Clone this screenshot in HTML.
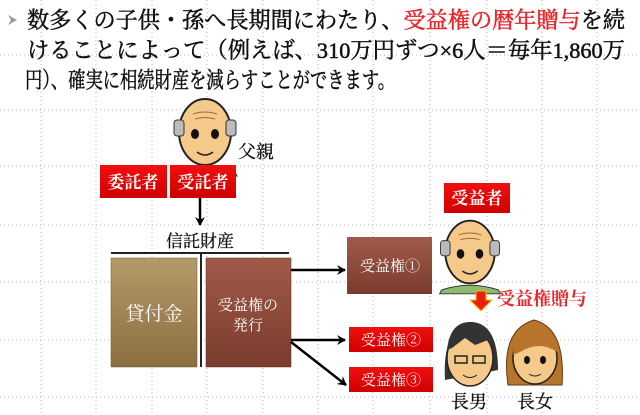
<!DOCTYPE html>
<html><head><meta charset="utf-8"><style>
html,body{margin:0;padding:0;background:#fff;}
svg{display:block;}
.t{font-family:"Liberation Serif","Noto Serif CJK SC","Noto Sans CJK JP",serif;}
</style></head><body>
<svg width="640" height="415" viewBox="0 0 640 415" xmlns="http://www.w3.org/2000/svg">
<defs>
<linearGradient id="gold" x1="0" y1="0" x2="0" y2="1"><stop offset="0" stop-color="#b59a6a"/><stop offset="1" stop-color="#8c6e40"/></linearGradient>
<linearGradient id="brn" x1="0" y1="0" x2="0" y2="1"><stop offset="0" stop-color="#a05a48"/><stop offset="1" stop-color="#7a3c2e"/></linearGradient>
<linearGradient id="red" x1="0" y1="0" x2="0" y2="1"><stop offset="0" stop-color="#f01010"/><stop offset="1" stop-color="#d00000"/></linearGradient>
<marker id="ah" markerWidth="10" markerHeight="10" refX="8" refY="5" orient="auto" markerUnits="userSpaceOnUse"><path d="M0,0 L9,5 L0,10 L3,5z" fill="#000"/></marker>
<g id="oldman">
<path d="M-30,40 Q0,30 30,40 L32,44 L-32,44z" fill="#8fb870" stroke="#333"/>
<ellipse cx="0" cy="0" rx="26" ry="33" fill="#f5c98a" stroke="#222" stroke-width="2"/>
<rect x="-31" y="-12" width="10" height="16" rx="3" fill="#bbb" stroke="#333"/>
<rect x="21" y="-12" width="10" height="16" rx="3" fill="#bbb" stroke="#333"/>
<path d="M-12,-18 Q0,-22 12,-18 M-10,-13 Q0,-16 10,-13" stroke="#a06a30" fill="none"/>
<ellipse cx="-10" cy="2" rx="4" ry="5" fill="#111"/><ellipse cx="10" cy="2" rx="4" ry="5" fill="#111"/>
<path d="M-8,20 Q0,26 8,20" stroke="#222" fill="none" stroke-width="1.5"/>
</g>
</defs>
<rect width="640" height="415" fill="#fff"/>
<g stroke="#b5b5b5" stroke-width="1" stroke-dasharray="1,3">
<line x1="0" y1="55" x2="640" y2="55"/><line x1="0" y1="110" x2="640" y2="110"/><line x1="0" y1="166" x2="640" y2="166"/><line x1="0" y1="225" x2="640" y2="225"/><line x1="0" y1="282" x2="640" y2="282"/><line x1="0" y1="340" x2="640" y2="340"/><line x1="0" y1="397" x2="640" y2="397"/>
<line x1="41" y1="0" x2="41" y2="415"/><line x1="96" y1="0" x2="96" y2="415"/><line x1="152" y1="0" x2="152" y2="415"/><line x1="207" y1="0" x2="207" y2="415"/><line x1="263" y1="0" x2="263" y2="415"/><line x1="318" y1="0" x2="318" y2="415"/><line x1="373" y1="0" x2="373" y2="415"/><line x1="430" y1="0" x2="430" y2="415"/><line x1="487" y1="0" x2="487" y2="415"/><line x1="542" y1="0" x2="542" y2="415"/><line x1="597" y1="0" x2="597" y2="415"/>
</g>
<path d="M8,15 L17,20 L8,25 L11,20z" fill="#999"/>
<g class="t" font-size="22.5" fill="#111" stroke="#111" stroke-width="0.5">
<text x="27" y="28" textLength="598" lengthAdjust="spacingAndGlyphs">数多くの子供・孫へ長期間にわたり、<tspan fill="#e8262b" stroke="#e8262b">受益権の暦年贈与</tspan>を続</text>
<text x="27" y="58" textLength="598" lengthAdjust="spacingAndGlyphs">けることによって（例えば、310万円ずつ×6人＝毎年1,860万</text>
<text x="25" y="88" textLength="370" lengthAdjust="spacingAndGlyphs">円）、確実に相続財産を減らすことができます。</text>
</g>
<use href="#oldman" transform="translate(205,132)"/>
<text class="t" x="238" y="158" font-size="18" fill="#111" stroke="#111" stroke-width="0.3">父親</text>
<rect x="100" y="165" width="67" height="33" fill="url(#red)"/>
<rect x="170" y="165" width="66" height="33" fill="url(#red)"/>
<g class="t" font-size="17" fill="#fff" font-weight="bold" text-anchor="middle">
<text x="133" y="188">委託者</text><text x="203" y="188">受託者</text>
</g>
<line x1="200" y1="198" x2="200" y2="225" stroke="#000" stroke-width="2.5" marker-end="url(#ah)"/>
<text class="t" x="200" y="247" font-size="17" fill="#111" stroke="#111" stroke-width="0.3" text-anchor="middle">信託財産</text>
<line x1="111" y1="253" x2="289" y2="253" stroke="#222" stroke-width="2"/>
<line x1="201" y1="253" x2="201" y2="367" stroke="#222" stroke-width="2"/>
<rect x="111" y="258" width="86" height="109" fill="url(#gold)" stroke="#6d5530" stroke-width="0.5"/>
<rect x="206" y="258" width="85" height="109" fill="url(#brn)" stroke="#5a2a20" stroke-width="0.5"/>
<g class="t" fill="#fff" text-anchor="middle">
<text x="154" y="320" font-size="19">貸付金</text>
<text x="248" y="310" font-size="15">受益権の</text>
<text x="248" y="330" font-size="15">発行</text>
</g>
<line x1="291" y1="270" x2="345" y2="270" stroke="#000" stroke-width="2.5" marker-end="url(#ah)"/>
<line x1="291" y1="340" x2="345" y2="340" stroke="#000" stroke-width="2.5" marker-end="url(#ah)"/>
<line x1="291" y1="342" x2="346" y2="385" stroke="#000" stroke-width="2.5" marker-end="url(#ah)"/>
<rect x="347" y="237" width="85" height="57" fill="url(#brn)"/>
<rect x="349" y="327" width="84" height="25" fill="url(#red)"/>
<rect x="349" y="367" width="84" height="25" fill="url(#red)"/>
<g class="t" fill="#fff" text-anchor="middle" font-size="15">
<text x="390" y="271">受益権①</text><text x="391" y="345">受益権②</text><text x="391" y="385">受益権③</text>
</g>
<rect x="444" y="183" width="66" height="30" fill="url(#red)"/>
<text class="t" x="477" y="204" font-size="17" fill="#fff" font-weight="bold" text-anchor="middle">受益者</text>
<use href="#oldman" transform="translate(470,252) scale(0.95)"/>
<path d="M476,291 h10 v9 h6 l-11,11 l-11,-11 h6z" fill="#e8200f" stroke="#f5c000" stroke-width="1"/>
<text class="t" x="497" y="305" font-size="18" fill="#e8262b" font-weight="bold">受益権贈与</text>
<g>
<path d="M445,380 Q442,330 470,322 Q498,322 498,370 Z" fill="#333"/>
<ellipse cx="470" cy="358" rx="23" ry="28" fill="#f5c98a" stroke="#222" stroke-width="1.5"/>
<path d="M447,350 Q450,322 470,322 Q492,322 494,352 L488,340 L475,345 L465,338 L452,348z" fill="#333"/>
<rect x="455" y="356" width="12" height="7" fill="none" stroke="#222" stroke-width="1.5"/><rect x="473" y="356" width="12" height="7" fill="none" stroke="#222" stroke-width="1.5"/>
<path d="M463,375 Q470,380 477,375" stroke="#222" fill="none"/>
</g>
<g>
<path d="M508,385 Q500,330 534,320 Q566,328 562,385 Z" fill="#b8742a" stroke="#6a3a10"/>
<ellipse cx="535" cy="358" rx="22" ry="26" fill="#f5c98a" stroke="#222" stroke-width="1.5"/>
<path d="M513,355 Q515,325 535,324 Q555,326 557,352 Q540,340 520,352z" fill="#b8742a"/>
<ellipse cx="527" cy="360" rx="3" ry="4" fill="#111"/><ellipse cx="543" cy="360" rx="3" ry="4" fill="#111"/>
<path d="M529,374 Q535,378 541,374" stroke="#222" fill="none"/>
</g>
<g class="t" font-size="18" fill="#111" stroke="#111" stroke-width="0.3">
<text x="451" y="408">長男</text><text x="517" y="408">長女</text>
</g>
</svg>
</body></html>
